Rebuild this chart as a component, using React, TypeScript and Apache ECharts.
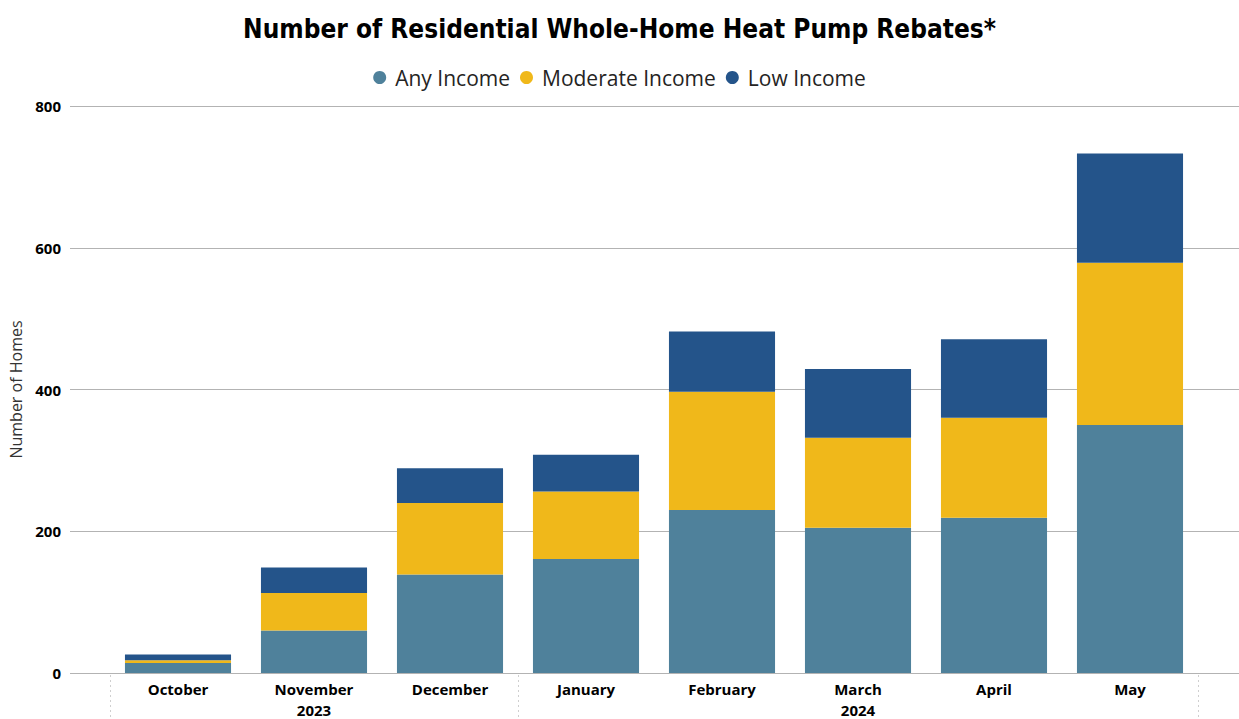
import React, { useEffect, useRef } from "react";
import * as echarts from "echarts";

const months = ["October", "November", "December", "January", "February", "March", "April", "May"];
const yearLabels = ["", "2023", "", "", "", "2024", "", ""];
const anyIncome = [14, 60, 139, 161, 230, 205, 219, 350];
const moderateIncome = [4, 53, 101, 95, 167, 127, 141, 229];
const lowIncome = [8, 36, 49, 52, 85, 97, 111, 154];
const yearGroupStarts = [0, 3, 8]; // category boundaries where dotted separators sit

const W = 1239;
const H = 719;
const PLOT_LEFT = 70;
const BAR_LEFT = 110;
const BAR_RIGHT = 1198;
const TOP = 106;
const BOTTOM = 673;

export default function App() {
  const ref = useRef<HTMLDivElement>(null);
  useEffect(() => {
    if (!ref.current) return;
    const chart = echarts.init(ref.current, undefined, { renderer: "svg" });
    const band = (BAR_RIGHT - BAR_LEFT) / months.length;
    const labelFont = "'Open Sans', 'Noto Sans', sans-serif";
    chart.setOption({
      animation: false,
      backgroundColor: "#ffffff",
      title: {
        text: "Number of Residential Whole-Home Heat Pump Rebates*",
        left: "center",
        top: 11,
        textStyle: {
          fontFamily: "'Liberation Sans Narrow', 'DejaVu Sans Condensed', sans-serif",
          fontWeight: "bold",
          fontSize: 26,
          color: "#000000",
        },
      },
      legend: {
        top: 62,
        left: "center",
        icon: "circle",
        itemWidth: 13,
        itemHeight: 13,
        itemGap: 10,
        textStyle: { fontFamily: labelFont, fontSize: 21, color: "#252423", padding: [0, 0, 0, 4] },
        data: ["Any Income", "Moderate Income", "Low Income"],
      },
      grid: [
        { left: PLOT_LEFT, right: 0, top: TOP, bottom: H - BOTTOM, outerBoundsMode: "none" },
        { left: BAR_LEFT, right: W - BAR_RIGHT, top: TOP, bottom: H - BOTTOM, outerBoundsMode: "none" },
      ],
      xAxis: [
        { type: "value", gridIndex: 0, show: false, min: 0, max: 1 },
        {
          type: "category",
          gridIndex: 1,
          data: months,
          axisLine: { show: false },
          axisTick: { show: false },
          axisLabel: {
            margin: 5,
            fontFamily: labelFont,
            fontWeight: "bold",
            fontSize: 15,
            lineHeight: 21,
            color: "#000000",
            formatter: (v: string, i: number) => `${v}\n${yearLabels[i]}`,
          },
        },
      ],
      yAxis: [
        {
          type: "value",
          gridIndex: 0,
          min: 0,
          max: 800,
          interval: 200,
          name: "Number of Homes",
          nameLocation: "middle",
          nameGap: 44,
          nameTextStyle: { fontFamily: labelFont, fontSize: 16, color: "#333333" },
          axisLine: { show: false },
          axisTick: { show: false },
          axisLabel: {
            margin: 9,
            fontFamily: labelFont,
            fontWeight: "bold",
            fontSize: 15,
            color: "#000000",
          },
          splitLine: { lineStyle: { color: "#b3b3b3", width: 1.2 } },
        },
        { type: "value", gridIndex: 1, min: 0, max: 800, show: false },
      ],
      series: [
        {
          name: "Any Income",
          type: "bar",
          stack: "total",
          xAxisIndex: 1,
          yAxisIndex: 1,
          barCategoryGap: "22%",
          data: anyIncome,
          itemStyle: { color: "#4f819b" },
        },
        {
          name: "Moderate Income",
          type: "bar",
          stack: "total",
          xAxisIndex: 1,
          yAxisIndex: 1,
          data: moderateIncome,
          itemStyle: { color: "#f0b81a" },
        },
        {
          name: "Low Income",
          type: "bar",
          stack: "total",
          xAxisIndex: 1,
          yAxisIndex: 1,
          data: lowIncome,
          itemStyle: { color: "#24548a" },
        },
      ],
      graphic: yearGroupStarts.map((idx) => ({
        type: "line",
        silent: true,
        shape: {
          x1: Math.round(BAR_LEFT + idx * band) + 0.5,
          y1: BOTTOM + 2,
          x2: Math.round(BAR_LEFT + idx * band) + 0.5,
          y2: H,
        },
        style: { stroke: "#cfcfcf", lineWidth: 1, lineDash: [2, 3] },
      })),
    });
    return () => chart.dispose();
  }, []);
  return <div ref={ref} style={{ width: W, height: H, position: "absolute", left: 0, top: 0 }} />;
}
